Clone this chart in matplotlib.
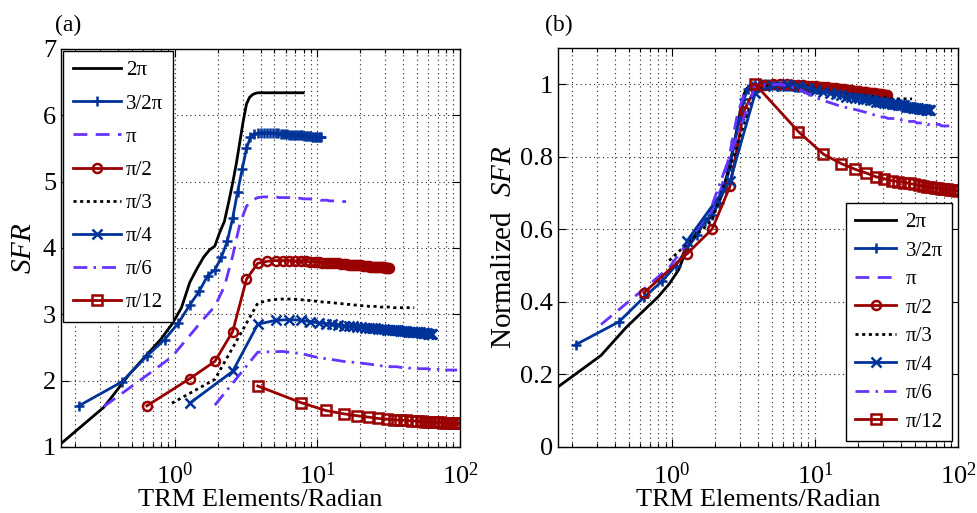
import numpy as np
import matplotlib
matplotlib.use("Agg")
import matplotlib.pyplot as plt
from matplotlib.ticker import LogLocator, NullFormatter, FixedLocator, FixedFormatter

plt.rcParams['font.family'] = ['Liberation Serif', 'DejaVu Serif']
plt.rcParams['mathtext.fontset'] = 'custom'
plt.rcParams['mathtext.rm'] = 'Liberation Serif'
plt.rcParams['mathtext.it'] = 'Liberation Serif:italic'

# aperture angles (rad) and legend labels
labels = ['2π', '3/2π', 'π', 'π/2', 'π/3', 'π/4', 'π/6', 'π/12']
angles = [2 * np.pi, 1.5 * np.pi, np.pi, np.pi / 2, np.pi / 3, np.pi / 4, np.pi / 6, np.pi / 12]

# SFR for N = 1, 2, 3, ... TRM elements
sfr_2pi = [1.05, 1.60, 2.09, 2.39, 2.62, 2.85, 3.10, 3.48, 3.69, 3.86,
           3.97, 4.03, 4.24, 4.40, 4.69, 4.98, 5.28, 5.61, 5.92, 6.17,
           6.27, 6.31, 6.33, 6.34, 6.34, 6.34, 6.34, 6.34, 6.34, 6.34,
           6.34, 6.34, 6.34, 6.34, 6.34, 6.34, 6.34, 6.34, 6.34, 6.34,
           6.34, 6.34, 6.34, 6.34, 6.34, 6.34, 6.34, 6.34, 6.34, 6.34]
sfr_3pi2 = [1.62, 1.98, 2.37, 2.62, 2.87, 3.14, 3.35, 3.58, 3.67, 3.86,
            4.10, 4.45, 4.85, 5.19, 5.50, 5.67, 5.72, 5.73, 5.74, 5.74,
            5.74, 5.74, 5.73, 5.73, 5.73, 5.72, 5.72, 5.72, 5.72, 5.71,
            5.71, 5.71, 5.71, 5.70, 5.70, 5.70, 5.70, 5.69, 5.69, 5.69,
            5.69, 5.69, 5.68, 5.68, 5.68, 5.68, 5.68, 5.67, 5.67, 5.67]
sfr_pi = [1.61, 2.08, 2.36, 2.68, 2.93, 3.12, 3.42, 3.88, 4.37, 4.63,
          4.72, 4.76, 4.77, 4.77, 4.77, 4.77, 4.76, 4.76, 4.76, 4.76,
          4.75, 4.75, 4.75, 4.75, 4.74, 4.74, 4.74, 4.74, 4.73, 4.73,
          4.73, 4.73, 4.72, 4.72, 4.72, 4.72, 4.72, 4.71, 4.71, 4.71,
          4.71, 4.71, 4.71, 4.70, 4.70, 4.70, 4.70, 4.70, 4.70, 4.70]
sfr_pi2 = [1.62, 2.03, 2.29, 2.74, 3.53, 3.77, 3.80, 3.81, 3.81, 3.81,
           3.80, 3.80, 3.80, 3.79, 3.79, 3.79, 3.78, 3.78, 3.78, 3.77,
           3.77, 3.77, 3.76, 3.76, 3.76, 3.75, 3.75, 3.75, 3.74, 3.74,
           3.74, 3.74, 3.73, 3.73, 3.73, 3.73, 3.72, 3.72, 3.72, 3.72,
           3.72, 3.71, 3.71, 3.71, 3.71, 3.71, 3.70, 3.70, 3.70, 3.70]
sfr_pi3 = [1.66, 2.02, 2.69, 3.17, 3.22, 3.23, 3.23, 3.22, 3.21, 3.20,
           3.19, 3.18, 3.18, 3.17, 3.16, 3.16, 3.15, 3.15, 3.14, 3.14,
           3.13, 3.13, 3.13, 3.12, 3.12, 3.12, 3.12, 3.12, 3.11, 3.11,
           3.11, 3.11, 3.11, 3.11, 3.11, 3.10, 3.10, 3.10, 3.10, 3.10,
           3.10, 3.10, 3.10, 3.10, 3.10, 3.10, 3.10, 3.10, 3.10, 3.10]
sfr_pi4 = [1.66, 2.14, 2.85, 2.91, 2.92, 2.91, 2.89, 2.87, 2.86, 2.85,
           2.84, 2.83, 2.82, 2.82, 2.81, 2.81, 2.80, 2.80, 2.79, 2.79,
           2.78, 2.78, 2.78, 2.77, 2.77, 2.77, 2.76, 2.76, 2.76, 2.75,
           2.75, 2.75, 2.75, 2.74, 2.74, 2.74, 2.74, 2.73, 2.73, 2.73,
           2.73, 2.72, 2.72, 2.72, 2.72, 2.72, 2.71, 2.71, 2.71, 2.71]
sfr_pi6 = [1.63, 2.43, 2.44, 2.41, 2.36, 2.33, 2.31, 2.29, 2.28, 2.27,
           2.26, 2.25, 2.24, 2.23, 2.22, 2.22, 2.21, 2.21, 2.21, 2.20,
           2.20, 2.20, 2.19, 2.19, 2.19, 2.19, 2.18, 2.18, 2.18, 2.18,
           2.18, 2.17, 2.17, 2.17, 2.17, 2.17, 2.17, 2.17, 2.17, 2.16,
           2.16, 2.16, 2.16, 2.16, 2.16, 2.16, 2.16, 2.16, 2.16, 2.16]
sfr_pi12 = [1.92, 1.67, 1.55, 1.50, 1.47, 1.45, 1.43, 1.42, 1.41, 1.405,
            1.40, 1.395, 1.39, 1.385, 1.38, 1.378, 1.375, 1.372, 1.37, 1.368,
            1.366, 1.364, 1.362, 1.36, 1.358, 1.356]
sfr = [sfr_2pi, sfr_3pi2, sfr_pi, sfr_pi2, sfr_pi3, sfr_pi4, sfr_pi6, sfr_pi12]

blue = '#003399'
violet = '#6633ff'
red = '#990000'
styles = [
    dict(color='k', ls='-', marker=None),
    dict(color=blue, ls='-', marker='+'),
    dict(color=violet, ls=(0, (5, 3)), marker=None),
    dict(color=red, ls='-', marker='o'),
    dict(color='k', ls=(0, (1.1, 1.3)), marker=None),
    dict(color=blue, ls='-', marker='x'),
    dict(color=violet, ls=(0, (5, 2.2, 0.9, 2.2)), marker=None),
    dict(color=red, ls='-', marker='s'),
]

fig = plt.figure(figsize=(9.77, 5.13), dpi=100)
ax1 = fig.add_axes([0.0624, 0.1287, 0.4084, 0.7758])
ax2 = fig.add_axes([0.5711, 0.1287, 0.4094, 0.7777])

for y, th, lab, st in zip(sfr, angles, labels, styles):
    y = np.array(y)
    x = np.arange(1, len(y) + 1) / th
    kw = dict(color=st['color'], ls=st['ls'], lw=2.0, marker=st['marker'],
              ms=6.5, mew=1.8, mfc='none', label=lab)
    ax1.plot(x, y, **kw)
    ax2.plot(x, y / y.max(), **kw)

xmin = 1 / (2 * np.pi)
for ax in (ax1, ax2):
    ax.set_xscale('log')
    ax.set_xlim(xmin, 100)
    ax.xaxis.set_major_locator(LogLocator(base=10, numticks=10))
    ax.xaxis.set_minor_locator(LogLocator(base=10, subs=np.arange(2, 10), numticks=20))
    ax.xaxis.set_minor_formatter(NullFormatter())
    ax.grid(True, which='both', axis='x', color='0.15', ls=(0, (1, 3)), lw=0.8)
    ax.grid(True, which='major', axis='y', color='0.15', ls=(0, (1, 3)), lw=0.8)
    ax.tick_params(which='both', direction='in', top=True, right=True, labelsize=19, width=0.8)
    ax.tick_params(axis='x', which='major', pad=11)
    ax.tick_params(which='major', length=6)
    ax.tick_params(which='minor', length=3)
    for s in ax.spines.values():
        s.set_linewidth(1.0)
    ax.set_xlabel('TRM Elements/Radian', fontsize=19, labelpad=0)

ax1.set_ylim(1, 7)
ax1.set_yticks([1, 2, 3, 4, 5, 6, 7])
ax1.set_ylabel(r'$\mathit{SFR}$', fontsize=21, labelpad=4)

ax2.set_ylim(0, 1.1)
ax2.yaxis.set_major_locator(FixedLocator([0, 0.2, 0.4, 0.6, 0.8, 1.0]))
ax2.yaxis.set_major_formatter(FixedFormatter(['0', '0.2', '0.4', '0.6', '0.8', '1']))
ax2.set_ylabel(r'Normalized  $\mathit{SFR}$', fontsize=21, labelpad=2)

leg_common = dict(fontsize=15, frameon=True, fancybox=False, edgecolor='k',
                  framealpha=1, borderpad=0.45)
l1 = ax1.legend(loc='upper left', handlelength=2.3, handletextpad=0.25,
                labelspacing=0.65, borderaxespad=0.12, **leg_common)
l2 = ax2.legend(loc='lower right', handlelength=1.95, handletextpad=0.45,
                labelspacing=0.43, borderaxespad=0.28, **leg_common)
for l in (l1, l2):
    l.get_frame().set_linewidth(1.0)

fig.text(0.056, 0.951, '(a)', fontsize=17, va='center')
fig.text(0.558, 0.951, '(b)', fontsize=17, va='center')

fig.savefig('out.png', dpi=100)
